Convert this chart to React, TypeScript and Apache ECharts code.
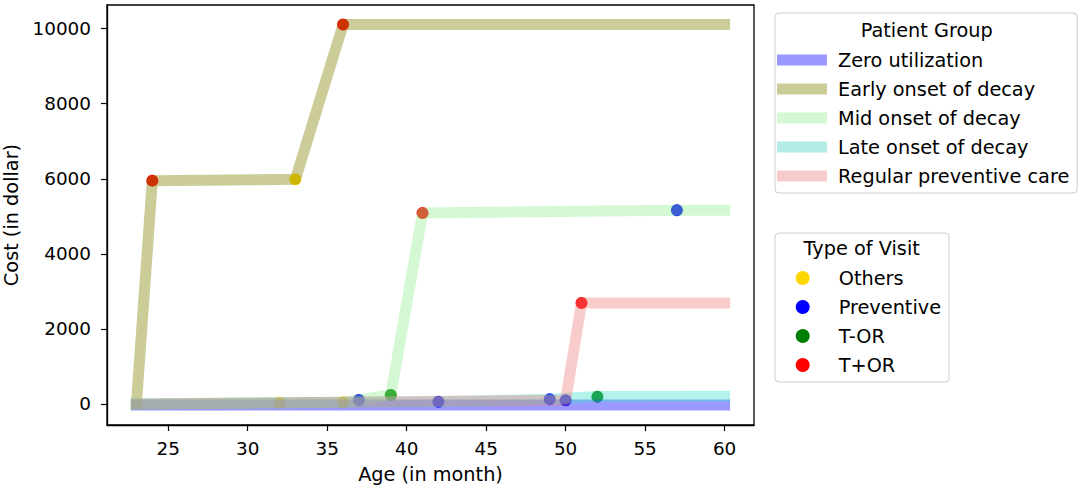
import React, { useEffect, useRef } from "react";
import * as echarts from "echarts";

const groupNames = [
  "Zero utilization",
  "Early onset of decay",
  "Mid onset of decay",
  "Late onset of decay",
  "Regular preventive care",
];
const groupLineColors = [
  "rgba(0,0,255,0.4)",
  "rgba(128,128,0,0.4)",
  "rgba(144,238,144,0.4)",
  "rgba(64,224,208,0.4)",
  "rgba(240,128,128,0.4)",
];
const groupLegendColors = ["#9999ff", "#cccc99", "#d3f8d3", "#b3ece6", "#f9cccc"];

// [age in month, cumulative cost in dollar]
const zeroUtilization = [[23, -30], [60, -30]];
const earlyOnset = [[23, 0], [24, 5950], [33, 5985], [36, 10110], [60, 10110]];
const midOnset = [[23, 0], [32, 35], [36, 45], [37, 107], [39, 240], [41, 5090], [57, 5160], [60, 5160]];
const lateOnset = [[23, 0], [42, 60], [49, 125], [52, 200], [60, 205]];
const regularPreventive = [[23, 0], [50, 100], [51, 2690], [60, 2690]];
const groupData = [zeroUtilization, earlyOnset, midOnset, lateOnset, regularPreventive];

const visitNames = ["Others", "Preventive", "T-OR", "T+OR"];
const visitColors = ["#ffd700", "#0000ff", "#008000", "#ff0000"];
const othersVisits = [[32, 35], [33, 5985], [36, 45]];
const preventiveVisits = [[37, 107], [42, 60], [49, 125], [50, 100], [57, 5160]];
const torVisits = [[39, 240], [52, 195]];
const tPlusOrVisits = [[24, 5950], [36, 10110], [41, 5090], [51, 2690]];
const visitData = [othersVisits, preventiveVisits, torVisits, tPlusOrVisits];

const xTicks = [25, 30, 35, 40, 45, 50, 55, 60];
const yTicks = [0, 2000, 4000, 6000, 8000, 10000];

const FONT = "DejaVu Sans";
const TICK_SIZE = 18.4;
const TEXT_SIZE = 19.3;

export default function App() {
  const ref = useRef<HTMLDivElement>(null);
  useEffect(() => {
    if (!ref.current) return;
    const chart = echarts.init(ref.current, undefined, { renderer: "svg" });
    const lineSeries = groupNames.map((name, i) => ({
      name,
      type: "line",
      data: groupData[i],
      showSymbol: false,
      symbol: "none",
      z: 3,
      lineStyle: { color: groupLineColors[i], width: 11, cap: "square", join: "round" },
      itemStyle: { color: groupLegendColors[i] },
    }));
    const scatterSeries = visitNames.map((name, i) => ({
      name,
      type: "scatter",
      data: visitData[i],
      symbol: "circle",
      symbolSize: 12,
      z: 2,
      itemStyle: { color: visitColors[i], opacity: 1 },
    }));
    const legendText = {
      fontFamily: FONT,
      fontSize: TEXT_SIZE,
      lineHeight: 20,
      color: "#000",
      padding: [0, 0, 0, 6],
    };
    chart.setOption({
      animation: false,
      textStyle: { fontFamily: FONT },
      grid: {
        left: 107,
        right: 330,
        top: 5,
        bottom: 66,
        show: true,
        borderColor: "#000",
        borderWidth: 1.3,
        containLabel: false,
        outerBoundsMode: "none",
      },
      xAxis: {
        type: "value",
        min: 21.15,
        max: 61.85,
        name: "Age (in month)",
        nameLocation: "middle",
        nameGap: 40,
        nameTextStyle: { fontFamily: FONT, fontSize: TEXT_SIZE, color: "#000" },
        axisLine: { show: true, onZero: false, lineStyle: { color: "#000", width: 1.3 } },
        axisTick: { show: true, inside: false, length: 6, lineStyle: { color: "#000", width: 1.2 }, customValues: xTicks },
        axisLabel: { fontFamily: FONT, fontSize: TICK_SIZE, color: "#000", margin: 14, customValues: xTicks },
        splitLine: { show: false },
      },
      yAxis: {
        type: "value",
        min: -560,
        max: 10630,
        name: "Cost (in dollar)",
        nameLocation: "middle",
        nameGap: 86,
        nameTextStyle: { fontFamily: FONT, fontSize: TEXT_SIZE, color: "#000" },
        axisLine: { show: true, onZero: false, lineStyle: { color: "#000", width: 1.3 } },
        axisTick: { show: true, inside: false, length: 6, lineStyle: { color: "#000", width: 1.2 }, customValues: yTicks },
        axisLabel: {
          fontFamily: FONT,
          fontSize: TICK_SIZE,
          color: "#000",
          margin: 16,
          customValues: yTicks,
          formatter: (v: number) => String(v),
        },
        splitLine: { show: false },
      },
      legend: [
        {
          orient: "vertical",
          left: 775,
          top: 13,
          padding: [37, 8, 7, 2],
          itemGap: 9,
          itemWidth: 50,
          itemHeight: 11,
          icon: "rect",
          selectedMode: false,
          borderColor: "#cccccc",
          borderWidth: 1,
          borderRadius: 4,
          backgroundColor: "#fff",
          textStyle: legendText,
          data: groupNames.map((name, i) => ({
            name,
            icon: "rect",
            itemStyle: { color: groupLegendColors[i], opacity: 1, borderWidth: 0 },
          })),
        },
        {
          orient: "vertical",
          left: 775,
          top: 233,
          padding: [35, 8, 7, 20.7],
          itemGap: 9,
          itemWidth: 50,
          itemHeight: 14,
          icon: "circle",
          selectedMode: false,
          borderColor: "#cccccc",
          borderWidth: 1,
          borderRadius: 4,
          backgroundColor: "#fff",
          textStyle: legendText,
          data: visitNames.map((name, i) => ({
            name,
            icon: "circle",
            itemStyle: { color: visitColors[i], opacity: 1, borderWidth: 0 },
          })),
        },
      ],
      graphic: [
        {
          type: "text",
          x: 926.7,
          y: 30,
          z: 100,
          style: {
            text: "Patient Group",
            fontFamily: FONT,
            fontSize: TEXT_SIZE,
            fill: "#000",
            align: "center",
            verticalAlign: "middle",
          },
        },
        {
          type: "text",
          x: 861.7,
          y: 248.5,
          z: 100,
          style: {
            text: "Type of Visit",
            fontFamily: FONT,
            fontSize: TEXT_SIZE,
            fill: "#000",
            align: "center",
            verticalAlign: "middle",
          },
        },
      ],
      series: [...scatterSeries, ...lineSeries],
    });
    return () => chart.dispose();
  }, []);
  return (
    <div
      ref={ref}
      style={{ position: "fixed", left: 0, top: 0, width: 1084, height: 491, background: "#fff" }}
    />
  );
}
